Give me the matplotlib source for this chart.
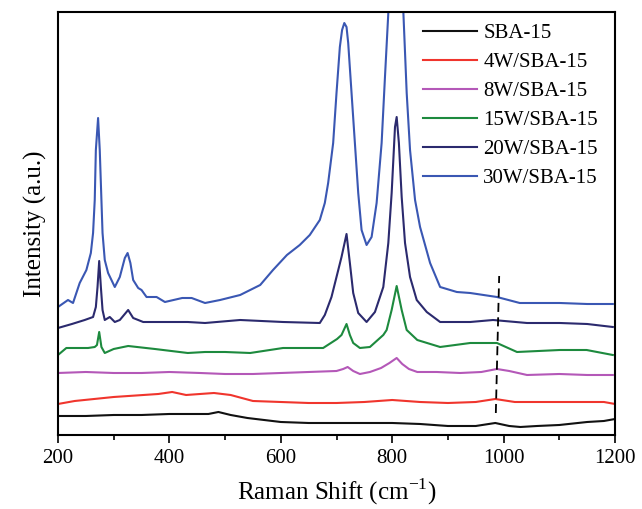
import matplotlib.pyplot as plt
from matplotlib.ticker import MultipleLocator

plt.rcParams['font.family'] = ['Liberation Serif', 'DejaVu Serif']
plt.rcParams['mathtext.fontset'] = 'custom'
plt.rcParams['mathtext.rm'] = 'Liberation Serif'

# Raman shift (cm-1) / intensity (a.u., offset)
x_sba = [200, 250, 300, 350, 400, 450, 470, 488, 510, 540, 600, 650, 700, 750, 800, 850,
         900, 950, 985, 1010, 1030, 1060, 1100, 1150, 1180, 1200]
y_sba = [19, 19, 20, 20, 21, 21, 21, 23, 20, 17, 13, 12, 12, 12, 12, 11,
         9, 9, 12, 9, 8, 9, 10, 13, 14, 16]

x_4w = [200, 230, 300, 380, 405, 430, 480, 510, 550, 600, 650, 700, 750, 800, 850,
        900, 950, 985, 1020, 1060, 1100, 1150, 1180, 1200]
y_4w = [31, 34, 38, 41, 43, 40, 42, 40, 34, 33, 32, 32, 33, 35, 33,
        32, 33, 36, 33, 33, 33, 33, 33, 31]

x_8w = [200, 250, 300, 350, 400, 455, 500, 550, 600, 650, 700, 712, 720, 730, 742, 760,
        780, 795, 808, 818, 830, 845, 880, 922, 960, 988, 1010, 1042, 1100, 1150, 1196]
y_8w = [62, 63, 62, 62, 63, 62, 61, 61, 62, 63, 64, 66, 68, 64, 61, 63,
        67, 72, 77, 71, 66, 63, 63, 62, 63, 66, 64, 60, 61, 60, 60]

x_15w = [200, 215, 254, 266, 270, 274, 278, 284, 300, 326, 374, 433, 464, 500, 545, 604,
         676, 701, 709, 718, 724, 730, 742, 760, 784, 790, 799, 808, 817, 826, 845,
         886, 940, 988, 1024, 1101, 1149, 1196]
y_15w = [80, 87, 87, 88, 90, 103, 88, 82, 86, 89, 86, 82, 83, 83, 82, 87,
         87, 96, 100, 111, 100, 92, 87, 88, 100, 105, 125, 149, 125, 105, 95,
         88, 92, 92, 83, 85, 85, 80]

x_20w = [200, 225, 248, 263, 268, 271, 274, 277, 280, 284, 293, 302, 311, 326, 335,
         353, 383, 433, 464, 527, 604, 670, 679, 691, 700, 709, 718, 724, 730, 739,
         754, 769, 784, 793, 799, 805, 808, 812, 817, 823, 832, 844, 862, 886, 940,
         981, 1042, 1101, 1150, 1196]
y_20w = [107, 111, 115, 118, 128, 148, 174, 148, 125, 115, 118, 113, 115, 125, 117,
         113, 113, 113, 112, 115, 113, 112, 120, 138, 158, 178, 201, 172, 142, 122,
         113, 123, 148, 192, 242, 308, 318, 292, 238, 192, 158, 135, 123, 113, 113,
         115, 112, 112, 111, 108]

x_30w = [200, 218, 227, 239, 251, 259, 263, 266, 268, 272, 275, 278, 280, 284, 290,
         296, 302, 311, 320, 325, 330, 335, 344, 350, 359, 377, 392, 423, 440, 464,
         491, 527, 563, 586, 611, 634, 652, 670, 679, 685, 694, 700, 706, 710, 714,
         718, 721, 727, 733, 739, 745, 754, 763, 772, 781, 787, 793, 797, 802, 807,
         813, 820, 826, 832, 841, 850, 868, 886, 916, 940, 988, 1029, 1101, 1150, 1196]
y_30w = [128, 135, 132, 152, 165, 182, 202, 235, 285, 317, 285, 235, 202, 175, 162,
         155, 148, 158, 177, 182, 172, 155, 147, 145, 138, 138, 133, 137, 137, 132,
         135, 140, 150, 165, 180, 190, 200, 215, 232, 252, 292, 342, 388, 405, 412,
         408, 392, 342, 292, 242, 205, 190, 198, 232, 292, 358, 422, 470, 510, 515,
         480, 423, 342, 285, 235, 208, 172, 148, 143, 142, 138, 132, 132, 131, 131]

labels = ['SBA-15', '4W/SBA-15', '8W/SBA-15', '15W/SBA-15', '20W/SBA-15', '30W/SBA-15']
colors = ['#111111', '#f0352d', '#b458b8', '#1d8a3e', '#2b2a6e', '#3a57b3']

xs = [x_sba, x_4w, x_8w, x_15w, x_20w, x_30w]
ys = [y_sba, y_4w, y_8w, y_15w, y_20w, y_30w]

fig = plt.figure(figsize=(6.42, 5.09), dpi=100)
ax = fig.add_axes([0.0903, 0.1454, 0.8677, 0.831])

for x, y, lab, c in zip(xs, ys, labels, colors):
    ax.plot(x, y, color=c, lw=1.5, label=lab)

# dashed marker line near 990 cm-1
ax.plot([986, 992], [22, 159], color='black', ls=(0, (5, 3)), lw=1.3)

ax.set_xlim(200, 1200)
ax.set_ylim(0, 423)
ax.xaxis.set_major_locator(MultipleLocator(200))
ax.xaxis.set_minor_locator(MultipleLocator(100))
ax.tick_params(axis='x', which='major', direction='out', length=6, width=1.2,
               labelsize=15, pad=4, top=False)
ax.tick_params(axis='x', which='minor', direction='out', length=3.5, width=1.2, top=False)
ax.set_yticks([])
for s in ax.spines.values():
    s.set_linewidth(1.5)

ax.set_xlabel('Raman Shift (cm$^{\\mathrm{-1}}$)', fontsize=18, labelpad=6)
ax.set_ylabel('Intensity (a.u.)', fontsize=18, labelpad=8)

ax.legend(loc='upper right', frameon=False, fontsize=15, handlelength=2.6,
          handletextpad=0.3, labelspacing=0.45, borderaxespad=0.15,
          bbox_to_anchor=(0.99, 1.0))

fig.savefig('out.png', dpi=100)
